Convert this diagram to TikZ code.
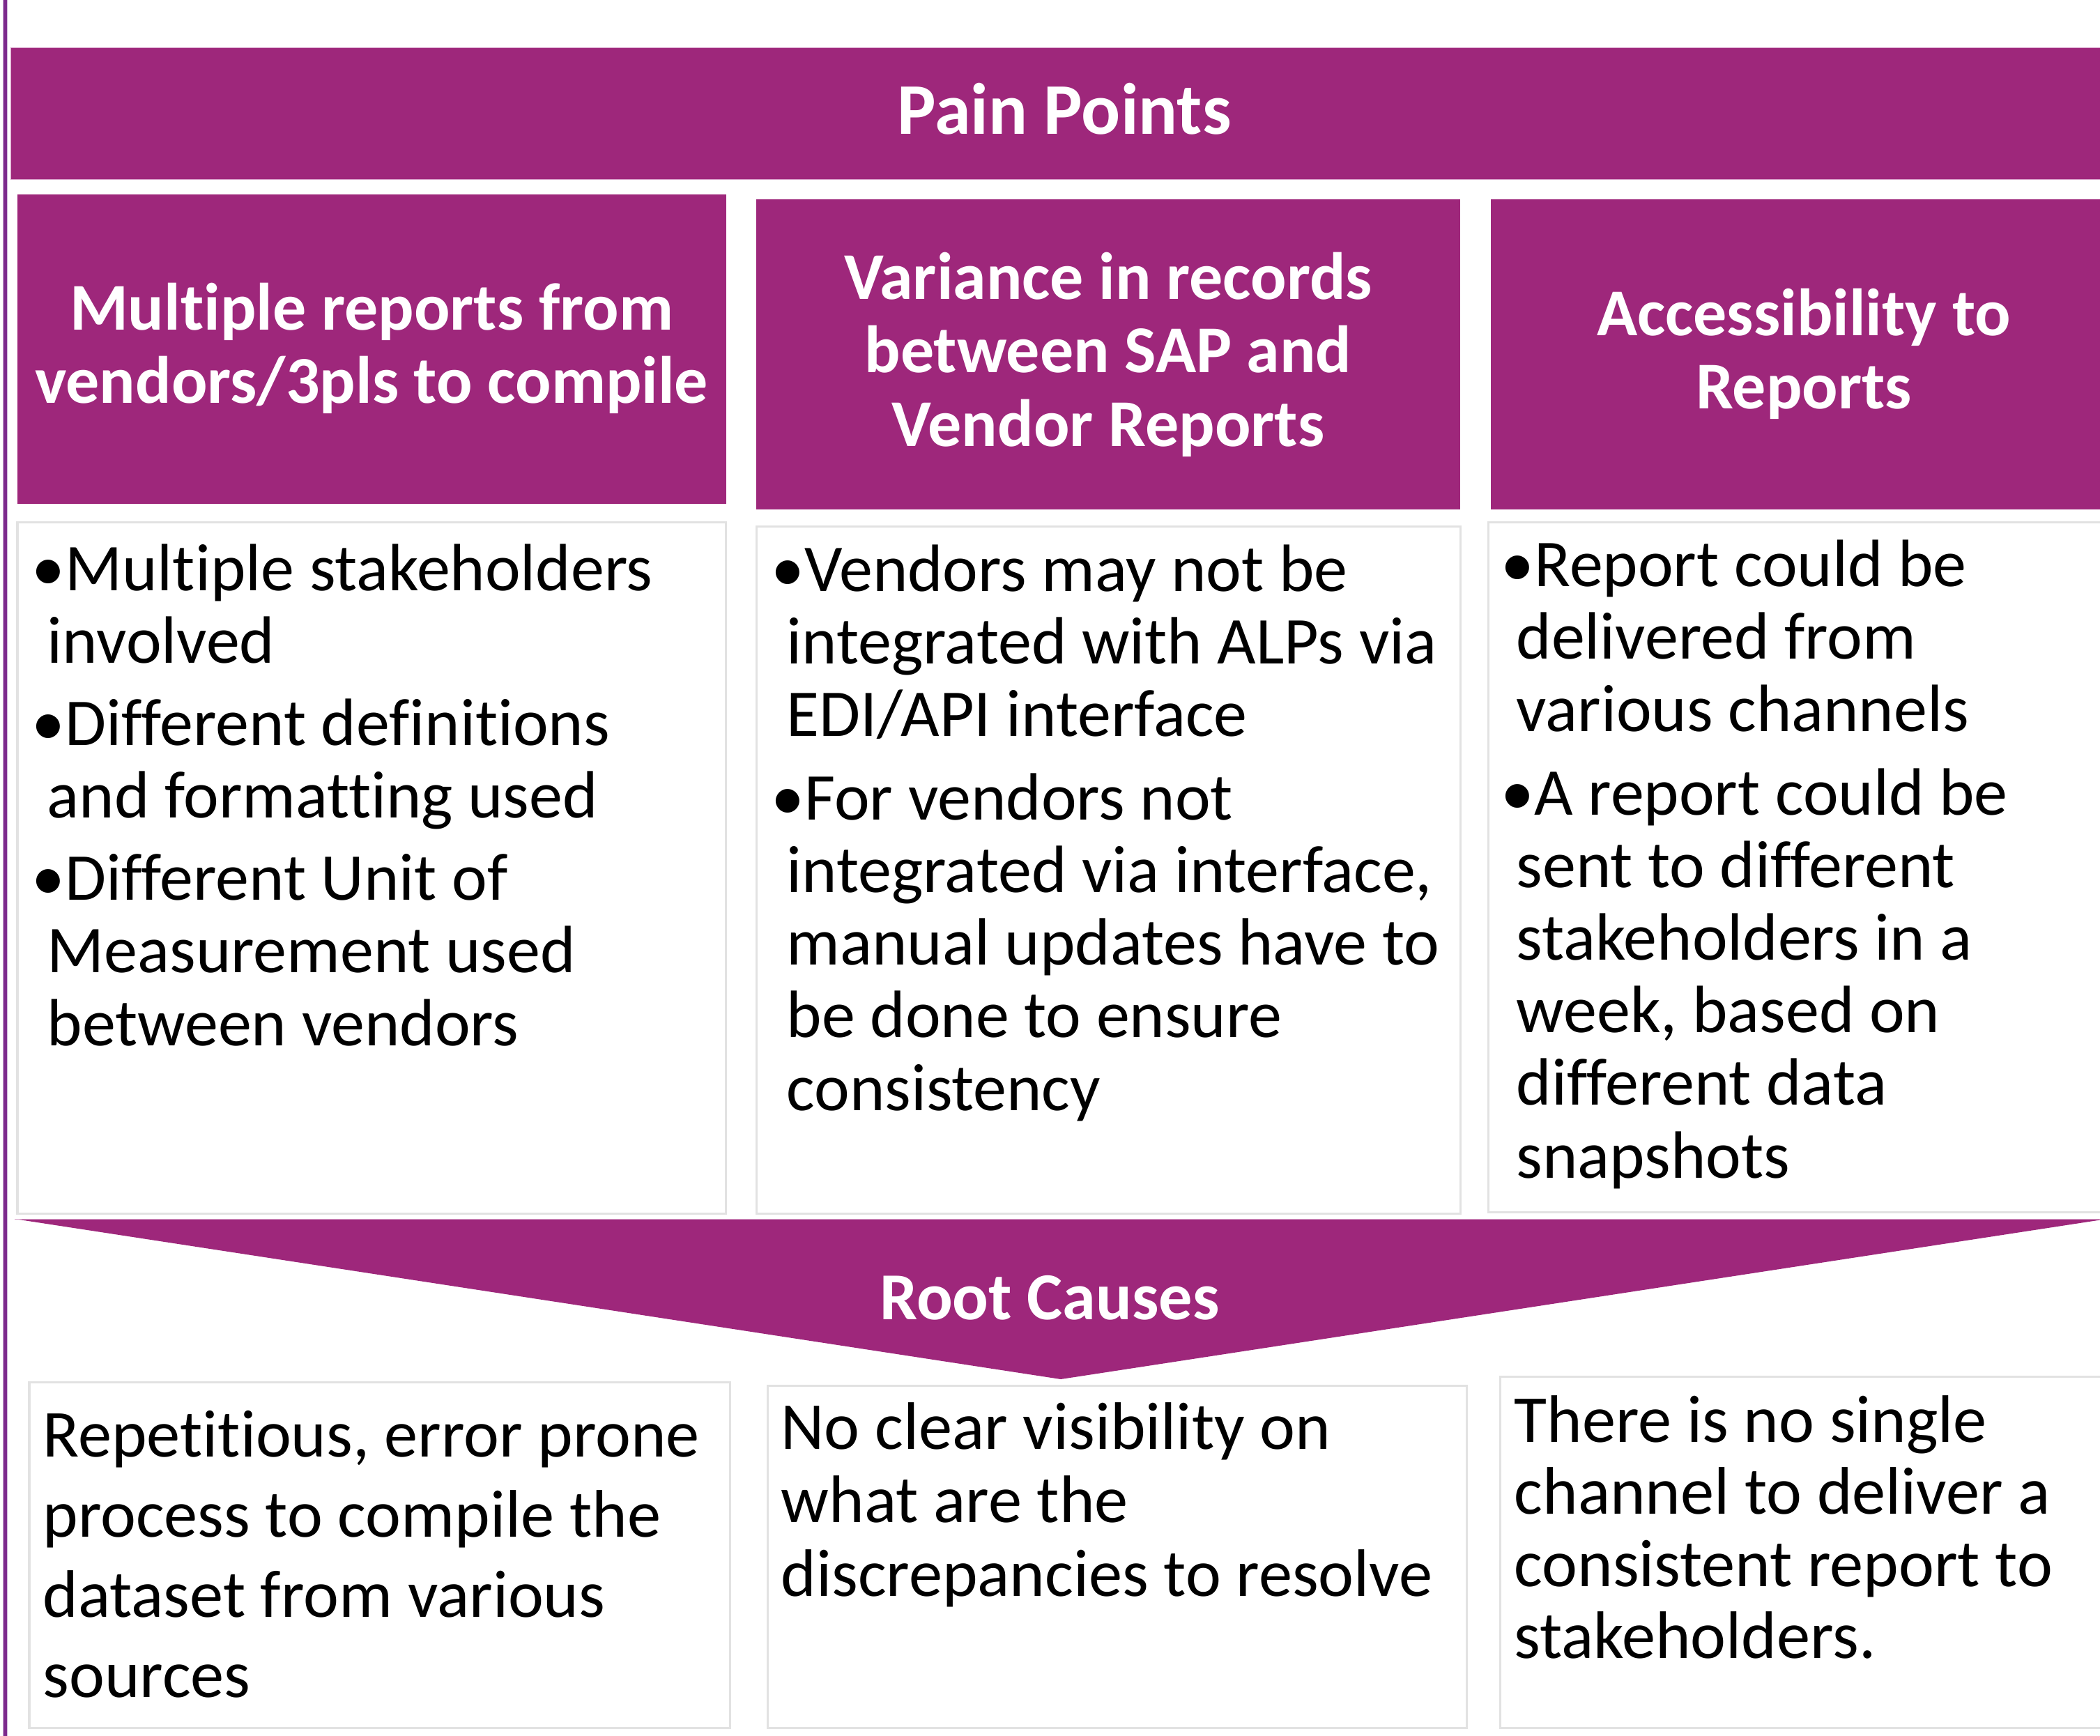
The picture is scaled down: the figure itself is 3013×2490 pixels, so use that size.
\documentclass[tikz,border=0pt]{standalone}
\usepackage{fontspec}
\setmainfont{Carlito}[Ligatures=NoCommon]
\definecolor{mag}{RGB}{158,39,123}
\definecolor{vline}{RGB}{125,42,140}
\definecolor{boxgray}{RGB}{226,226,226}
\definecolor{edgepink}{RGB}{214,160,200}
\definecolor{edgelav}{RGB}{205,180,215}
\tikzset{
  magfill/.style={fill=mag},
  bodybox/.style={draw=boxgray, line width=0.03cm, fill=white},
  titletext/.style={text=white, inner sep=0pt, align=center, font=\bfseries\fontsize{29.7}{32}\selectfont},
  hdrtext/.style={text=white, inner sep=0pt, align=center, font=\bfseries\fontsize{27.3}{29.6}\selectfont},
  bodytext/.style={text=black, inner sep=0pt, align=left, font=\fontsize{27.3}{29.6}\selectfont},
}
\newcommand{\bul}{\hspace*{-0.22cm}\textbullet}
\begin{document}
\begin{tikzpicture}[x=0.01cm,y=-0.01cm]
\useasboundingbox (0,0) rectangle (3013,2490);
\clip (0,0) rectangle (3013,2490);
% left vertical line
\fill[vline, draw=edgelav, line width=0.01cm] (4.5,-5) rectangle (10.5,2500);
% banner
\fill[magfill, draw=edgepink, line width=0.01cm] (15,68) rectangle (3040,257);
\node[titletext, anchor=base] (pain) at (1527,192) {Pain Points};
% header boxes
\fill[magfill] (25,279) rectangle (1042,723);
\fill[magfill] (1085,286) rectangle (2095,731);
\fill[magfill] (2139,286) rectangle (3040,731);
\node[hdrtext, anchor=base] (h1) at (533,578) {Multiple reports from\\vendors/3pls to compile};
\node[hdrtext, anchor=base, font=\bfseries\fontsize{27.3}{30}\selectfont] (h2) at (1590,640) {Variance in records\\between SAP and\\Vendor Reports};
\node[hdrtext, anchor=base] (h3) at (2588,586) {Accessibility to\\Reports};
% body boxes
\draw[bodybox] (25,749) rectangle (1041,1741);
\draw[bodybox] (1085,755) rectangle (2095,1741);
\draw[bodybox] (2135,749) rectangle (3040,1739);
\node[bodytext, anchor=base west] (b1) at (67,1500) {\bul Multiple stakeholders\\involved\\[0.14cm]\bul Different definitions\\and formatting used\\[0.14cm]\bul Different Unit of\\Measurement used\\between vendors};
\node[bodytext, anchor=base west] (b2) at (1128,1593) {\bul Vendors may not be\\integrated with ALPs via\\EDI/API interface\\[0.16cm]\bul For vendors not\\integrated via interface,\\manual updates have to\\be done to ensure\\consistency};
\node[bodytext, anchor=base west] (b3) at (2175,1690) {\bul Report could be\\delivered from\\various channels\\[0.16cm]\bul A report could be\\sent to different\\stakeholders in a\\week, based on\\different data\\snapshots};
% root causes chevron
\fill[magfill] (21,1749) -- (3023,1749) -- (1522,1979) -- cycle;
\draw[edgepink, line width=0.01cm] (21,1749) -- (3023,1749);
\node[hdrtext, anchor=base, font=\bfseries\fontsize{27.4}{30}\selectfont] (rc) at (1506,1893) {Root Causes};
% root cause boxes
\draw[bodybox] (42,1983) rectangle (1047,2479);
\draw[bodybox] (1101,1988) rectangle (2104,2479);
\draw[bodybox] (2152,1975) rectangle (3040,2479);
\node[bodytext, anchor=base west, font=\fontsize{27.4}{32.7}\selectfont] (r1) at (61,2435) {Repetitious, error prone\\process to compile the\\dataset from various\\sources};
\node[bodytext, anchor=base west, font=\fontsize{27.4}{29.9}\selectfont] (r2) at (1120,2290) {No clear visibility on\\what are the\\discrepancies to resolve};
\node[bodytext, anchor=base west, font=\fontsize{27.4}{29.3}\selectfont] (r3) at (2172,2379) {There is no single\\channel to deliver a\\consistent report to\\stakeholders.};
\end{tikzpicture}
\end{document}
